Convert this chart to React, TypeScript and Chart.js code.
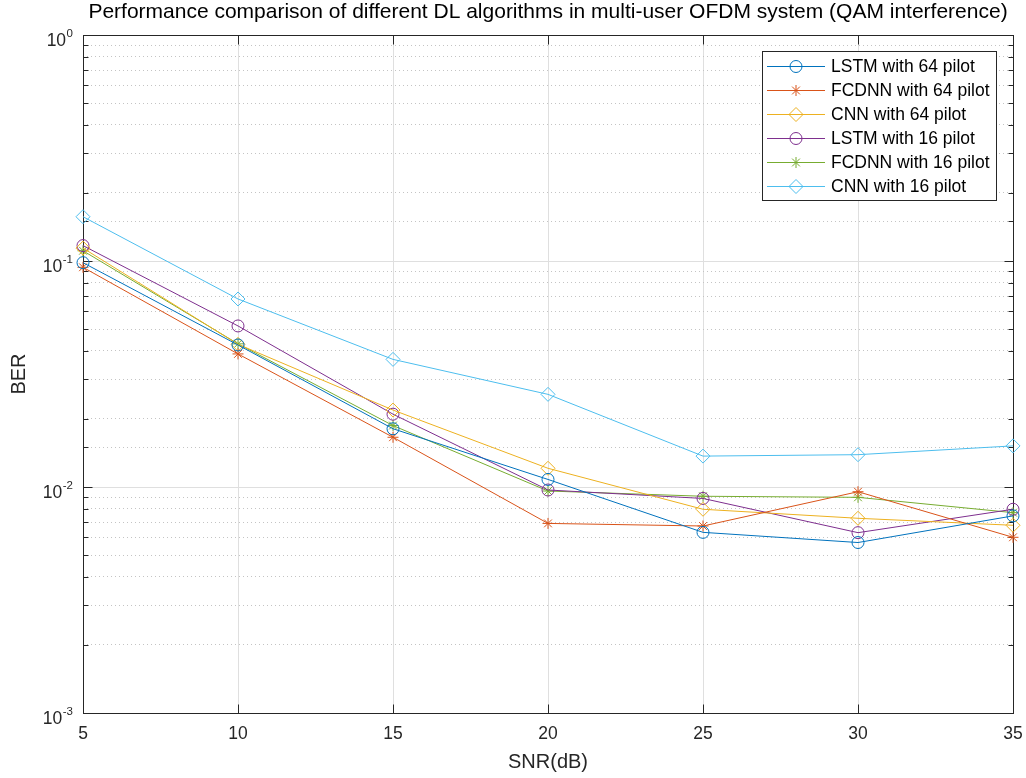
import React, { useEffect, useRef } from 'react';
import { Chart, registerables } from 'chart.js';
import { drawPoint } from 'chart.js/helpers';

Chart.register(...registerables);

// SNR sweep (dB) and measured bit error rates per detector / pilot count
const snr = [5, 10, 15, 20, 25, 30, 35];
const lstm64 = [0.0983, 0.0425, 0.0181, 0.0108, 0.0063, 0.00568, 0.00745];
const fcdnn64 = [0.0938, 0.0388, 0.0166, 0.0069, 0.00672, 0.00953, 0.00599];
const cnn64 = [0.114, 0.0428, 0.0219, 0.0121, 0.00797, 0.00727, 0.00677];
const lstm16 = [0.117, 0.0516, 0.021, 0.0097, 0.0089, 0.00628, 0.00797];
const fcdnn16 = [0.111, 0.043, 0.0187, 0.0096, 0.0091, 0.009, 0.0077];
const cnn16 = [0.157, 0.0679, 0.0367, 0.0257, 0.0137, 0.0139, 0.0152];

const seriesLabels = [
  'LSTM with 64 pilot',
  'FCDNN with 64 pilot',
  'CNN with 64 pilot',
  'LSTM with 16 pilot',
  'FCDNN with 16 pilot',
  'CNN with 16 pilot',
];
const seriesValues = [lstm64, fcdnn64, cnn64, lstm16, fcdnn16, cnn16];
const seriesColors = ['#0072BD', '#D95319', '#EDB120', '#7E2F8E', '#77AC30', '#4DBEEE'];
const seriesMarkers = ['circle', 'star', 'rectRot', 'circle', 'star', 'rectRot'];

const xTickValues = [5, 10, 15, 20, 25, 30, 35];
const yDecades = [0, -1, -2, -3];

const titleText =
  'Performance comparison of different DL algorithms in multi-user OFDM system (QAM interference)';
const xTitle = 'SNR(dB)';
const yTitle = 'BER';

const FONT = "'Liberation Sans', Arial, Helvetica, sans-serif";
const AXIS_COLOR = '#262626';
const GRID_MAJOR = '#dfdfdf';
const GRID_MINOR = '#c4c4c4';

const markerRadius = (style: string) => (style === 'rectRot' ? 7 : style === 'star' ? 5.5 : 6);

const isDecade = (v: number) => {
  const l = Math.log10(v);
  return Math.abs(l - Math.round(l)) < 1e-9;
};

// Box outline plus inward tick marks on all four sides
const axesBox = {
  id: 'axesBox',
  beforeDatasetsDraw(chart: any) {
    const { ctx, chartArea } = chart;
    const { left, right, top, bottom } = chartArea;
    const xs = chart.scales.x;
    const ys = chart.scales.y;
    const a = (v: number) => Math.round(v) + 0.5;
    ctx.save();
    ctx.strokeStyle = AXIS_COLOR;
    ctx.lineWidth = 1;
    ctx.beginPath();
    for (const t of ys.ticks) {
      const y = a(ys.getPixelForValue(t.value));
      const len = isDecade(t.value) ? 9 : 5;
      ctx.moveTo(a(left), y);
      ctx.lineTo(a(left) + len, y);
      ctx.moveTo(a(right), y);
      ctx.lineTo(a(right) - len, y);
    }
    for (const v of xTickValues) {
      const x = a(xs.getPixelForValue(v));
      ctx.moveTo(x, a(bottom));
      ctx.lineTo(x, a(bottom) - 9);
      ctx.moveTo(x, a(top));
      ctx.lineTo(x, a(top) + 9);
    }
    ctx.stroke();
    ctx.strokeRect(a(left), a(top), Math.round(right) - Math.round(left), Math.round(bottom) - Math.round(top));
    ctx.restore();
  },
};

// Decade labels drawn as 10 with a raised exponent
const decadeLabels = {
  id: 'decadeLabels',
  afterDraw(chart: any) {
    const { ctx } = chart;
    const ys = chart.scales.y;
    const rightEdge = chart.chartArea.left - 10;
    ctx.save();
    ctx.fillStyle = AXIS_COLOR;
    ctx.textBaseline = 'alphabetic';
    for (const e of yDecades) {
      const y = ys.getPixelForValue(Math.pow(10, e));
      const exp = String(e);
      ctx.font = `11.5px ${FONT}`;
      const ew = ctx.measureText(exp).width;
      ctx.textAlign = 'left';
      ctx.fillText(exp, rightEdge - ew, y + 1.5);
      ctx.font = `17.5px ${FONT}`;
      ctx.textAlign = 'right';
      ctx.fillText('10', rightEdge - ew - 0.5, y + 11);
    }
    ctx.restore();
  },
};

// Boxed legend in the upper right corner of the plot area
const boxLegend = {
  id: 'boxLegend',
  afterDraw(chart: any) {
    const { ctx, chartArea } = chart;
    const boxW = 234;
    const boxH = 149;
    const boxL = Math.round(chartArea.right - 17 - boxW);
    const boxT = Math.round(chartArea.top + 16);
    ctx.save();
    ctx.fillStyle = '#ffffff';
    ctx.fillRect(boxL, boxT, boxW, boxH);
    ctx.strokeStyle = AXIS_COLOR;
    ctx.lineWidth = 1;
    ctx.strokeRect(boxL + 0.5, boxT + 0.5, boxW, boxH);
    chart.data.datasets.forEach((ds: any, i: number) => {
      const y = boxT + 15 + i * 24;
      const x0 = boxL + 5;
      const x1 = boxL + 63;
      ctx.strokeStyle = ds.borderColor;
      ctx.lineWidth = 1;
      ctx.beginPath();
      ctx.moveTo(x0, y + 0.5);
      ctx.lineTo(x1, y + 0.5);
      ctx.stroke();
      ctx.fillStyle = 'rgba(0,0,0,0)';
      drawPoint(
        ctx,
        { pointStyle: ds.pointStyle, radius: ds.pointRadius, rotation: 0, borderWidth: 1 },
        (x0 + x1) / 2,
        y + 0.5,
      );
      ctx.fillStyle = '#000000';
      ctx.font = `17.5px ${FONT}`;
      ctx.textAlign = 'left';
      ctx.textBaseline = 'middle';
      ctx.fillText(ds.label, boxL + 69, y + 1);
    });
    ctx.restore();
  },
};

export default function App() {
  const canvasRef = useRef<HTMLCanvasElement | null>(null);

  useEffect(() => {
    const canvas = canvasRef.current;
    if (!canvas) return;

    const datasets = seriesLabels.map((label, i) => ({
      label,
      data: snr.map((x, j) => ({ x, y: seriesValues[i][j] })),
      borderColor: seriesColors[i],
      backgroundColor: 'rgba(0,0,0,0)',
      borderWidth: 1,
      pointStyle: seriesMarkers[i],
      pointRadius: markerRadius(seriesMarkers[i]),
      pointBorderWidth: 1,
      pointBorderColor: seriesColors[i],
      pointBackgroundColor: 'rgba(0,0,0,0)',
      tension: 0,
      fill: false,
      clip: false,
    }));

    const chart = new Chart(canvas, {
      type: 'line',
      data: { datasets },
      plugins: [axesBox, decadeLabels, boxLegend],
      options: {
        responsive: false,
        animation: false,
        devicePixelRatio: 1,
        layout: { padding: { left: 0, right: 13, top: 0, bottom: 0 } },
        plugins: {
          legend: { display: false },
          tooltip: { enabled: false },
          title: {
            display: true,
            text: titleText,
            fullSize: false,
            color: '#000000',
            font: { family: FONT, size: 21, weight: 'normal' },
            padding: { top: 0, bottom: 9.8 },
          },
        },
        scales: {
          x: {
            type: 'linear',
            min: 5,
            max: 35,
            afterBuildTicks: (scale: any) => {
              scale.ticks = xTickValues.map((v) => ({ value: v }));
            },
            afterFit: (scale: any) => {
              scale.height = 65;
              scale.paddingLeft = 0;
              scale.paddingRight = 0;
            },
            ticks: {
              autoSkip: false,
              maxRotation: 0,
              padding: 11,
              color: AXIS_COLOR,
              font: { family: FONT, size: 17.5 },
            },
            grid: { color: GRID_MAJOR, lineWidth: 1, drawTicks: false },
            border: { display: false },
            title: {
              display: true,
              text: xTitle,
              color: AXIS_COLOR,
              font: { family: FONT, size: 20 },
              padding: { top: 0, bottom: 4 },
            },
          },
          y: {
            type: 'logarithmic',
            min: 0.001,
            max: 1,
            afterFit: (scale: any) => {
              scale.width = 83;
              scale.paddingTop = 0;
              scale.paddingBottom = 0;
            },
            ticks: { display: false, autoSkip: false },
            grid: {
              drawTicks: false,
              lineWidth: 1,
              color: (c: any) => (c.tick && isDecade(c.tick.value) ? GRID_MAJOR : GRID_MINOR),
            },
            border: {
              display: false,
              dash: (c: any) => (c.tick && isDecade(c.tick.value) ? [] : [1, 3]),
            },
            title: {
              display: true,
              text: yTitle,
              color: AXIS_COLOR,
              font: { family: FONT, size: 20 },
              padding: { top: 7, bottom: 0 },
            },
          },
        },
      },
    } as any);

    return () => {
      chart.destroy();
    };
  }, []);

  return (
    <div style={{ position: 'absolute', left: 0, top: 0, width: 1026, height: 778, background: '#ffffff' }}>
      <canvas ref={canvasRef} width={1026} height={778} style={{ display: 'block' }} />
    </div>
  );
}
